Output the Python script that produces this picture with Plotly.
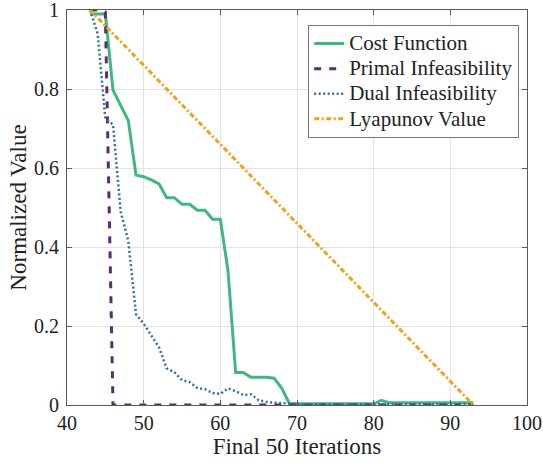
import plotly.graph_objects as go

iterations = list(range(43, 94))

cost_function = [0.99, 0.99, 0.99, 0.797, 0.758, 0.72, 0.582, 0.578, 0.57, 0.56,
                 0.525, 0.525, 0.508, 0.508, 0.493, 0.493, 0.47, 0.47, 0.34, 0.082,
                 0.082, 0.07, 0.07, 0.07, 0.068, 0.043, 0.004, 0.003, 0.003, 0.003,
                 0.003, 0.003, 0.003, 0.003, 0.003, 0.003, 0.003, 0.003, 0.012, 0.006,
                 0.006, 0.006, 0.006, 0.006, 0.006, 0.006, 0.006, 0.006, 0.006, 0.006,
                 0.006]

primal_infeasibility = [1.0, 1.0, 0.995] + [0.0] * 48

dual_infeasibility = [1.0, 0.94, 0.725, 0.71, 0.49, 0.415, 0.23, 0.206, 0.176, 0.146,
                      0.093, 0.083, 0.063, 0.058, 0.043, 0.04, 0.03, 0.028, 0.042, 0.035,
                      0.025, 0.027, 0.012, 0.008, 0.006, 0.005, 0.004, 0.002, 0.002, 0.002,
                      0.002, 0.002, 0.002, 0.002, 0.002, 0.002, 0.002, 0.002, 0.002, 0.002,
                      0.002, 0.002, 0.002, 0.002, 0.002, 0.002, 0.002, 0.002, 0.002, 0.002,
                      0.002]

lyapunov_x = [43, 93]
lyapunov_value = [1.0, 0.0]

series_names = ["Cost Function", "Primal Infeasibility", "Dual Infeasibility", "Lyapunov Value"]

x_ticks = [40, 50, 60, 70, 80, 90, 100]
y_ticks = [0, 0.2, 0.4, 0.6, 0.8, 1]
y_tick_labels = ["0", "0.2", "0.4", "0.6", "0.8", "1"]

FONT = "Liberation Serif"
TXT = "#222222"


def legend_label(s):
    return '<span style="font-size:21px">' + s + "</span>"


fig = go.Figure()
fig.add_trace(go.Scatter(x=iterations, y=cost_function, mode="lines", name=legend_label(series_names[0]),
                         line=dict(color="#3fb77f", width=3)))
fig.add_trace(go.Scatter(x=iterations, y=primal_infeasibility, mode="lines", name=legend_label(series_names[1]),
                         line=dict(color="#5a2d72", width=3, dash="7px,8px")))
fig.add_trace(go.Scatter(x=iterations, y=dual_infeasibility, mode="lines", name=legend_label(series_names[2]),
                         line=dict(color="#336ea3", width=2.5, dash="2px,2.5px")))
fig.add_trace(go.Scatter(x=lyapunov_x, y=lyapunov_value, mode="lines", name=legend_label(series_names[3]),
                         line=dict(color="#f0a11d", width=3, dash="5px,2.5px,2px,2.5px")))

axis_common = dict(
    showline=True, linecolor="#5a5a5a", linewidth=1, mirror="ticks",
    ticks="inside", ticklen=5, tickcolor="#5a5a5a",
    showgrid=True, gridcolor="#e3e3e3", gridwidth=1, zeroline=False,
    tickfont=dict(family=FONT, size=20, color=TXT),
    automargin=False, ticklabeloverflow="allow",
)

fig.update_layout(
    width=543, height=466,
    margin=dict(l=67, r=16, t=10, b=61),
    paper_bgcolor="white", plot_bgcolor="white",
    font=dict(family=FONT, color=TXT, size=20),
    xaxis=dict(range=[40, 100], tickvals=x_ticks, ticklabelstandoff=0,
               title=dict(text="Final 50 Iterations", font=dict(family=FONT, size=23, color=TXT), standoff=4),
               **axis_common),
    yaxis=dict(range=[0, 1], tickvals=y_ticks, ticktext=y_tick_labels, ticklabelstandoff=3,
               title=dict(text="Normalized Value", font=dict(family=FONT, size=23, color=TXT), standoff=0),
               **axis_common),
    legend=dict(x=0.983, y=0.962, xanchor="right", yanchor="top",
                bgcolor="white", bordercolor="#777777", borderwidth=1,
                font=dict(family=FONT, size=17, color=TXT),
                tracegroupgap=0, itemwidth=30),
    showlegend=True,
)

fig.write_html("out.html", config={"displayModeBar": False},
               post_script="document.body.style.margin='0';")
